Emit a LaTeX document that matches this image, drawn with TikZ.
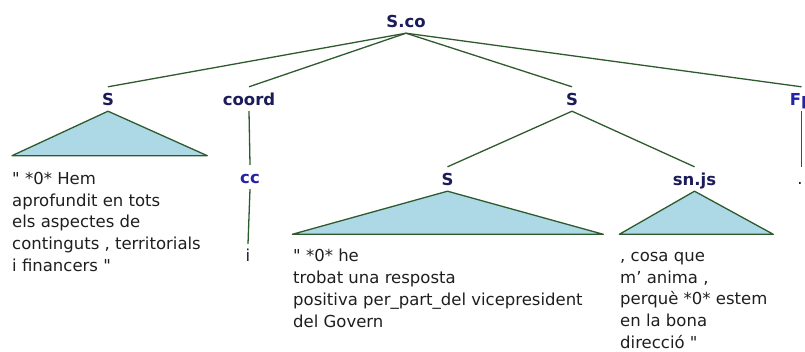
\documentclass[tikz,border=0pt]{standalone}
\usepackage{fontspec}
\setmainfont{DejaVu Sans}
\definecolor{navy}{HTML}{1C1C5A}
\definecolor{posblue}{HTML}{2222AA}
\definecolor{linegreen}{HTML}{2E5A2E}
\definecolor{triblue}{HTML}{ADD8E6}
\definecolor{txt}{HTML}{1E1E1E}
\newcommand{\dq}{\textquotedbl}
\begin{document}
\begin{tikzpicture}[x=1pt,y=-1pt,
  lab/.style={font=\fontsize{16.5}{20}\selectfont\bfseries, text=navy, inner xsep=0pt, inner ysep=6pt, text height=12pt, text depth=0pt, anchor=base},
  poslab/.style={lab, text=posblue},
  word/.style={font=\fontsize{16.5}{20}\selectfont, text=txt, inner xsep=0pt, inner ysep=5pt, text height=12pt, text depth=0pt, anchor=base},
  leaf/.style={font=\fontsize{16.5}{21.8}\selectfont, text=txt, inner sep=0pt, anchor=north west, align=left},
  edge/.style={draw=linegreen, line width=1.3pt},
  tri/.style={fill=triblue, draw=linegreen, line width=1.3pt, line join=round}]
\useasboundingbox (0,0) rectangle (805,351);
\clip (0,0) rectangle (805,351);
% labels
\node[lab] (root) at (406,27) {S.co};
\node[lab] (s1) at (108,105) {S};
\node[lab] (coord) at (249,105) {coord};
\node[lab] (s2) at (572,105) {S};
\node[poslab] (fp) at (801.5,105) {Fp};
\node[poslab] (cc) at (250,183) {cc};
\node[lab] (s3) at (447.5,185) {S};
\node[lab] (snjs) at (694.5,185) {sn.js};
\node[word] (i) at (248,261) {i};
\node[word] (dot) at (800,184) {.};
% edges
\draw[edge] (root.south) -- (s1.north);
\draw[edge] (root.south) -- (coord.north);
\draw[edge] (root.south) -- (s2.north);
\draw[edge] (root.south) -- (fp.north);
\draw[edge] (coord.south) -- (cc.north);
\draw[edge] (cc.south) -- (i.north);
\draw[edge] (fp.south) -- (fp.south |- dot.north);
\draw[edge] (s2.south) -- (s3.north);
\draw[edge] (s2.south) -- (snjs.north);
% triangles
\draw[tri] (s1.south) -- (12,155.7) -- (207.3,155.7) -- cycle;
\draw[tri] (s3.south) -- (292.3,234.3) -- (603.3,234.3) -- cycle;
\draw[tri] (snjs.south) -- (619.3,234.3) -- (773.3,234.3) -- cycle;
% leaf texts
\node[leaf] (t1) at (12,171) {\rule{0pt}{13pt}\dq{} *0* Hem\\aprofundit en tots\\els aspectes de\\continguts , territorials\\i financers \dq};
\node[leaf] (t3) at (293,248.7) {\rule{0pt}{13pt}\dq{} *0* he\\trobat una resposta\\positiva per\_part\_del vicepresident\\del Govern};
\node[leaf] (t4) at (620,248) {\rule{0pt}{13pt}, cosa que\\m' anima ,\\perquè *0* estem\\en la bona\\direcció \dq};
\end{tikzpicture}
\end{document}
